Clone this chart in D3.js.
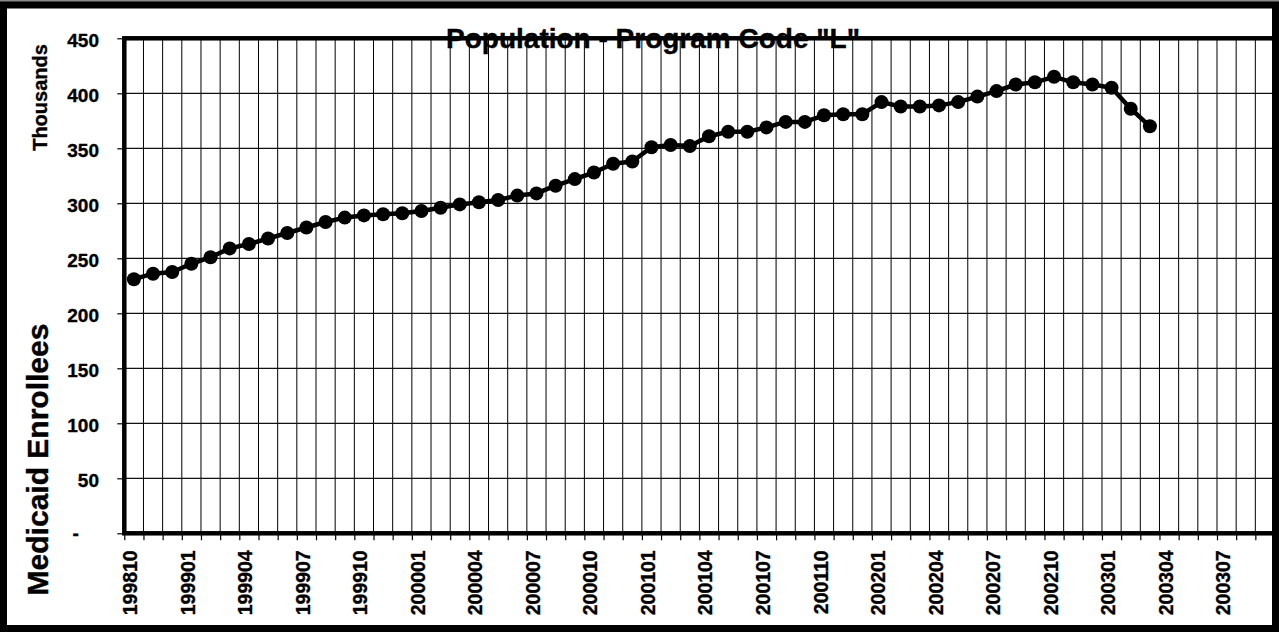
<!DOCTYPE html>
<html>
<head>
<meta charset="utf-8">
<script src="https://cdn.jsdelivr.net/npm/d3@7"></script>
<style>
  html, body { margin: 0; padding: 0; background: #fff; }
  svg { display: block; }
  text { font-family: "Liberation Sans", Arial, sans-serif; font-weight: bold; fill: #000; }
</style>
</head>
<body>
<svg id="chart" width="1279" height="632"></svg>
<script>
// ---- data ----
const categories = [
  "199810","199811","199812",
  "199901","199902","199903","199904","199905","199906","199907","199908","199909","199910","199911","199912",
  "200001","200002","200003","200004","200005","200006","200007","200008","200009","200010","200011","200012",
  "200101","200102","200103","200104","200105","200106","200107","200108","200109","200110","200111","200112",
  "200201","200202","200203","200204","200205","200206","200207","200208","200209","200210","200211","200212",
  "200301","200302","200303","200304","200305","200306","200307","200308","200309"
];
// Medicaid enrollees, thousands
const enrollees = [
  231, 236, 237.5, 245, 251, 259, 263, 268, 273, 278,
  283, 287, 289, 290, 291, 293, 296, 299, 301, 303,
  307, 309, 316, 322, 328, 336, 338, 351, 353, 352,
  361, 365, 365, 369, 374, 374, 380, 381, 381, 392,
  388, 388, 389, 392, 397, 402, 408, 410, 415, 410,
  408, 405, 386, 370
];
const yTicks = [0, 50, 100, 150, 200, 250, 300, 350, 400, 450];
const titleText = 'Population - Program Code "L"';
const yTitleTop = "Thousands";
const yTitleMain = "Medicaid Enrollees";

// ---- layout ----
const svg = d3.select("#chart");
const W = 1279, H = 632;
const pLeft = 124.3, pRight = 1274.5, pTop = 38.3, pBottom = 533.3;
const FONT = '"Liberation Sans", Arial, sans-serif';

const x = d3.scaleBand().domain(categories).range([pLeft, pRight]).paddingInner(0).paddingOuter(0);
const xIdx = d3.scaleLinear().domain([0, categories.length]).range([pLeft, pRight]);
const y = d3.scaleLinear().domain([0, 450]).range([pBottom, pTop]);

// background
svg.append("rect").attr("x", 0).attr("y", 0).attr("width", W).attr("height", H).attr("fill", "#fff");

// vertical gridlines at category boundaries
svg.append("g").selectAll("line")
  .data(d3.range(1, categories.length))
  .join("line")
  .attr("x1", d => xIdx(d)).attr("x2", d => xIdx(d))
  .attr("y1", pTop).attr("y2", pBottom)
  .attr("stroke", "#000").attr("stroke-width", 1);

// horizontal gridlines
svg.append("g").selectAll("line")
  .data(yTicks.filter(d => d > 0 && d < 450))
  .join("line")
  .attr("x1", pLeft).attr("x2", pRight)
  .attr("y1", d => y(d)).attr("y2", d => y(d))
  .attr("stroke", "#111").attr("stroke-width", 1.2);

// y axis
const yAxis = svg.append("g")
  .attr("transform", `translate(${pLeft},0)`)
  .call(d3.axisLeft(y).tickValues(yTicks).tickSize(7).tickFormat(d => d === 0 ? "-" : d));
yAxis.select(".domain").remove();
yAxis.selectAll(".tick line").attr("stroke", "#000").attr("stroke-width", 1.2);
yAxis.selectAll(".tick text")
  .attr("x", d => d === 0 ? -45.5 : -25.3)
  .attr("dy", d => d === 0 ? "0.33em" : "0.44em")
  .style("font-size", "19px")
  .style("font-family", FONT)
  .style("font-weight", "bold")
  .attr("fill", "#000")
  .attr("stroke", "#000").attr("stroke-width", 0.35);

// x axis boundary ticks
const xTickAxis = svg.append("g")
  .attr("transform", `translate(0,${pBottom})`)
  .call(d3.axisBottom(xIdx).tickValues(d3.range(0, categories.length + 1)).tickSize(7).tickFormat(""));
xTickAxis.select(".domain").remove();
xTickAxis.selectAll(".tick line").attr("stroke", "#000").attr("stroke-width", 1.2);

// x axis labels (every 3rd category)
const xLabelAxis = svg.append("g")
  .attr("transform", `translate(0,${pBottom})`)
  .call(d3.axisBottom(x).tickValues(categories.filter((c, i) => i % 3 === 0)).tickSize(0));
xLabelAxis.select(".domain").remove();
xLabelAxis.selectAll(".tick text")
  .attr("transform", "translate(3.5,17) rotate(-90) scale(0.95,1)")
  .attr("x", 0).attr("y", 0).attr("dy", null)
  .attr("text-anchor", "end")
  .style("font-size", "20.5px")
  .style("font-family", FONT)
  .style("font-weight", "bold")
  .attr("fill", "#000")
  .attr("stroke", "#000").attr("stroke-width", 0.35);

// plot frame
svg.append("rect")
  .attr("x", pLeft).attr("y", pTop)
  .attr("width", pRight - pLeft).attr("height", pBottom - pTop)
  .attr("fill", "none").attr("stroke", "#000").attr("stroke-width", 4.5);

// series line
const line = d3.line()
  .x((d, i) => x(categories[i]) + x.bandwidth() / 2)
  .y(d => y(d));
svg.append("path")
  .datum(enrollees)
  .attr("d", line)
  .attr("fill", "none")
  .attr("stroke", "#000")
  .attr("stroke-width", 4.5)
  .attr("stroke-linejoin", "round");

svg.append("g").selectAll("circle")
  .data(enrollees)
  .join("circle")
  .attr("cx", (d, i) => x(categories[i]) + x.bandwidth() / 2)
  .attr("cy", d => y(d))
  .attr("r", 7)
  .attr("fill", "#000");

// title
svg.append("text")
  .attr("x", 653).attr("y", 48)
  .attr("text-anchor", "middle")
  .style("font-size", "28px")
  .attr("stroke", "#000").attr("stroke-width", 0.4)
  .text(titleText);

// y titles
svg.append("text")
  .attr("transform", "translate(47,97.5) rotate(-90)")
  .attr("text-anchor", "middle")
  .style("font-size", "20px")
  .attr("stroke", "#000").attr("stroke-width", 0.35)
  .text(yTitleTop);

svg.append("text")
  .attr("transform", "translate(48.3,459.5) rotate(-90)")
  .attr("text-anchor", "middle")
  .style("font-size", "30px")
  .attr("stroke", "#000").attr("stroke-width", 0.4)
  .text(yTitleMain);

// outer border
svg.append("rect")
  .attr("x", 0).attr("y", 0).attr("width", W).attr("height", 2)
  .attr("fill", "#888");
svg.append("rect")
  .attr("x", 3.5).attr("y", 5).attr("width", W - 7).attr("height", H - 8.5)
  .attr("fill", "none").attr("stroke", "#000").attr("stroke-width", 7);
</script>
</body>
</html>
